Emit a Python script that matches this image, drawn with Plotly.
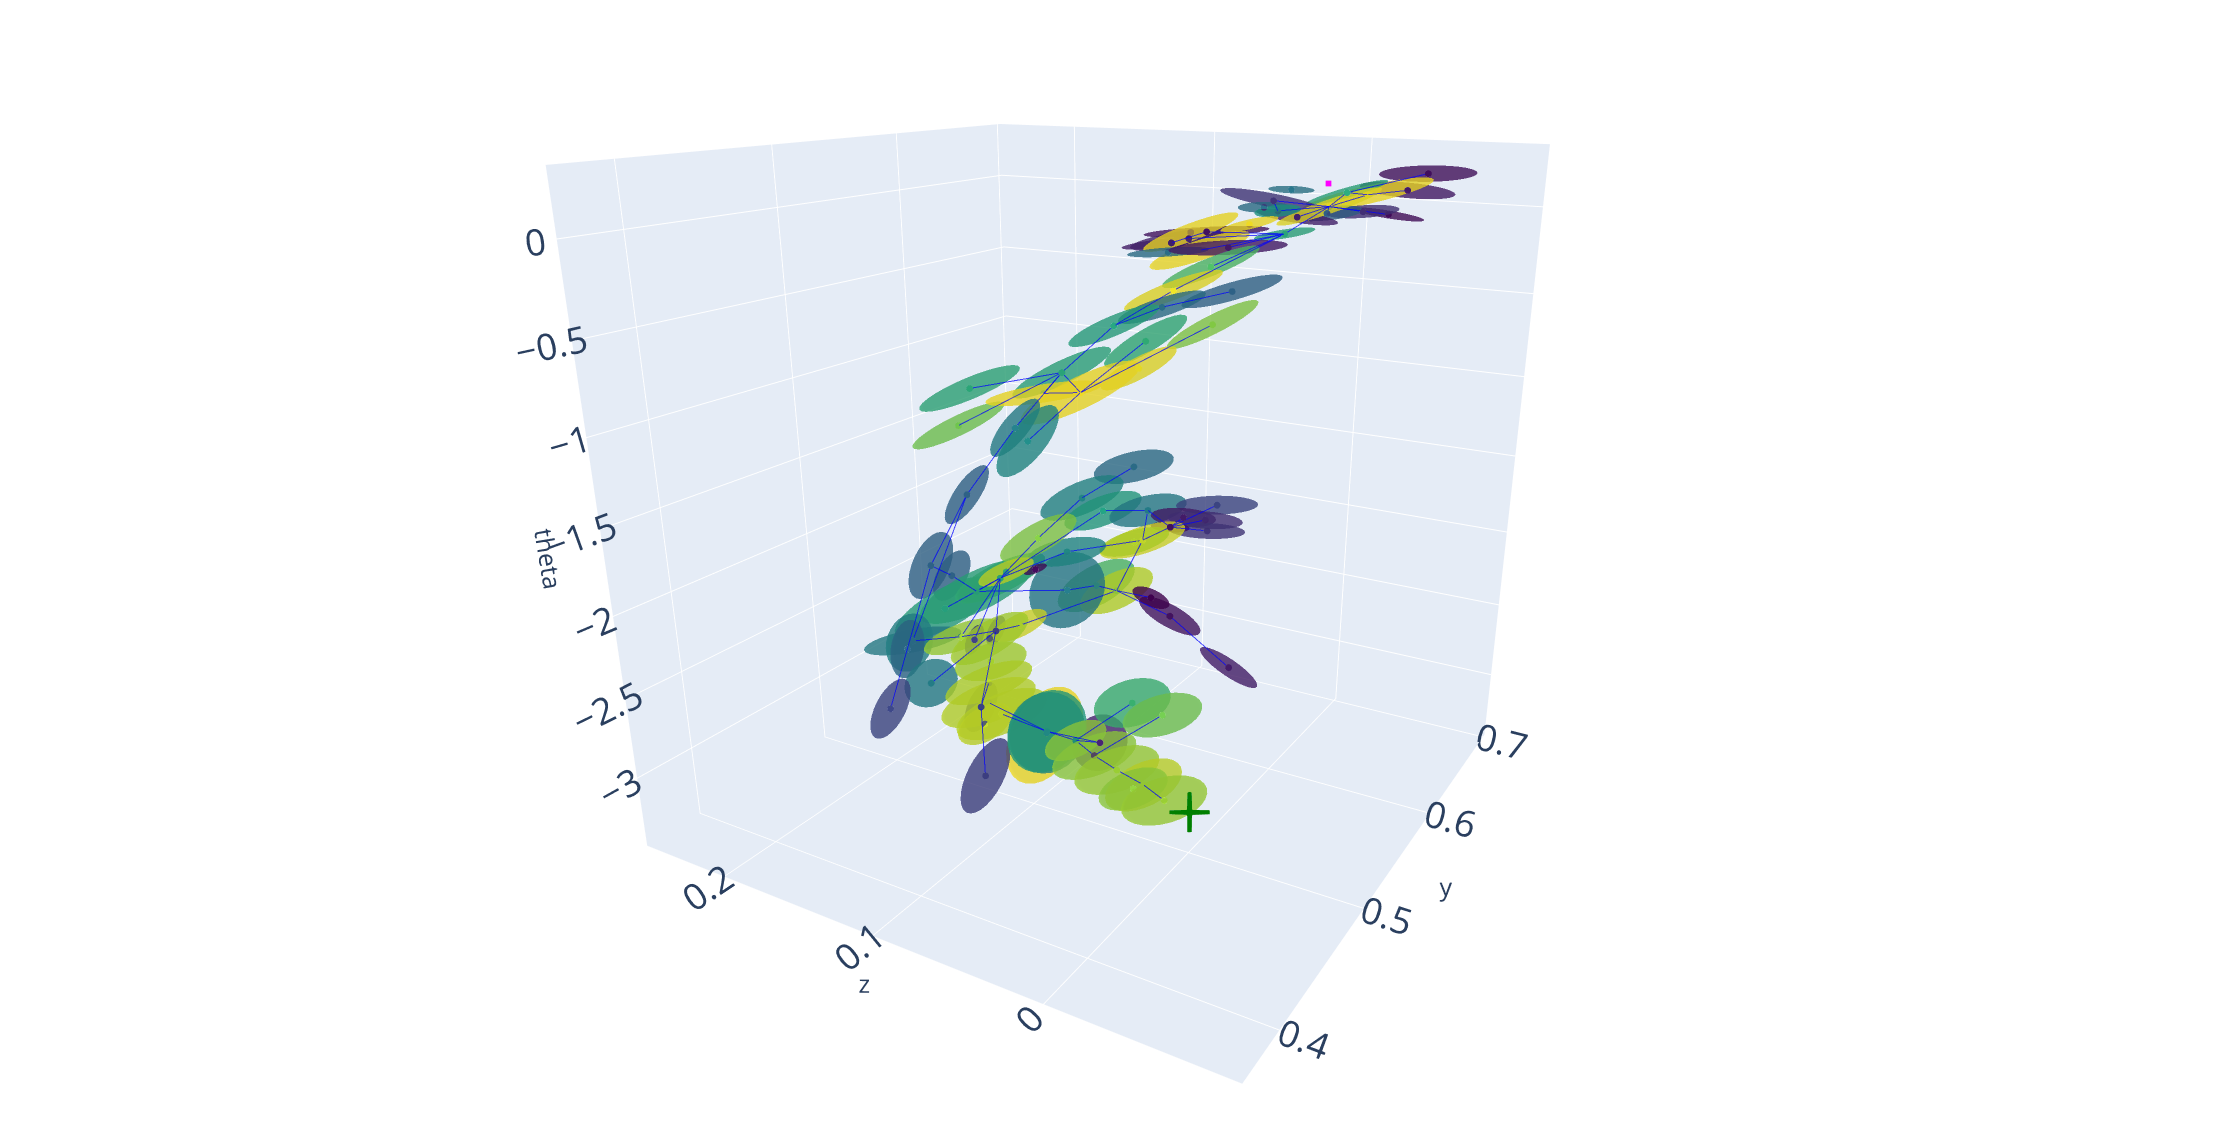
import numpy as np
import plotly.graph_objects as go
from plotly.colors import sample_colorscale

# pose nodes
node_y = [0.5910,0.5624,0.6131,0.5869,0.5690,0.5288,0.5467,0.5378,0.5327,0.4995,0.5957,0.5454,0.5390,0.5522,0.4873,0.4904,0.4924,0.5821,0.5821,0.5210,0.4894,0.5791,0.5556,0.5770,0.5159,0.5210,0.5617,0.5485,0.5770,0.5434,0.5258,
          0.5284,0.5454,0.5811,0.5791,0.5281,0.5332,0.4957,0.4765,0.4863,0.5030,0.5241,0.5423,0.4741,0.4738,0.4648,0.4728,0.5297,0.4840,0.4920,0.4525,0.4400,0.5199,0.5312,0.5414,0.5271,0.5047,0.4904,0.4965,0.4985,0.4873,0.5740,
          0.5699,0.5556,0.5709,0.5261,0.5332,0.4873,0.4822,0.4853,0.5617,0.5689,0.5691,0.5454,0.5273,0.5125,0.4992,0.4939,0.4848,0.4943,0.4235,0.4440,0.4668,0.4727,0.5114,0.5142,0.4802,0.4768,0.4761,0.4676,0.4675,0.4904,0.4861]
node_z = [-.0721,-.0726,-.0341,-.0333,-.0118,-.0212,-.0699,-.0612,-.0460,-.0462,-.0208,-.0199,-.0117,-.0128,-.0090,.0102,.0025,.0499,.0445,.0290,-.0187,.0149,.0239,.0568,-.0080,.0319,.0253,.0569,.0777,.0729,.1537,
          .1645,.1068,.1434,.1169,.1259,.1215,.1350,.1460,.1402,.1598,.1533,.1500,.1596,.1617,.1555,.1472,.1706,.1249,.1164,.0978,.1480,.0467,.0856,.0787,.0424,-.0090,.0016,-.0070,-.0071,.0070,.0728,
          .0759,.0924,.0882,.0926,.0971,.0065,.0143,.0847,.1360,.1653,.1564,.1617,.1476,.1383,.1288,.1161,.1209,.0876,.0742,.0201,.0671,.0710,.0420,.0250,.0465,.0306,.0142,.0153,-.0028,-.0250,.0619]
node_theta = [.269,.215,.121,.158,.179,.171,.116,.134,.122,.143,.070,-.010,.123,.091,.066,-.003,.020,-.097,-.192,-.104,-.002,-.027,-.226,-.417,-.260,-.387,-.548,-.648,-.889,-.570,-.989,
              -1.234,-.880,-1.137,-1.092,-1.190,-1.277,-1.510,-1.894,-1.981,-2.301,-2.258,-2.233,-2.389,-2.404,-2.390,-2.626,-2.630,-2.340,-2.298,-2.546,-2.634,-1.270,-1.555,-1.654,-1.537,-1.340,-1.380,-1.398,-1.464,-1.432,-1.940,
              -1.943,-2.209,-2.294,-2.124,-1.917,-1.929,-1.821,-1.821,-2.007,-2.325,-2.684,-2.688,-2.733,-2.788,-2.833,-2.848,-2.883,-2.911,-2.748,-2.497,-2.693,-2.726,-2.657,-2.702,-2.847,-2.872,-2.911,-2.892,-2.905,-2.163,-2.827]
node_weight = [.04,.07,1,.62,.4,.16,.03,.14,.32,.09,.98,.62,.38,.55,.05,.08,.1,1,1,.38,.07,1,.72,.98,.33,.38,.82,.65,.98,.6,.63,
               .79,.62,1,1,.45,.5,.33,.33,.33,.6,.62,.65,.45,.47,.35,.45,.86,.2,.2,.22,.22,.37,.48,.58,.44,.22,.08,.14,.16,.05,.95,
               .9,.72,.91,.43,.5,.05,0,.03,.82,.92,.95,.88,.88,.9,.91,.91,.92,1,.2,.1,.5,.58,.68,.79,.84,.86,.92,.84,.86,.08,.84]
# covariance ellipses: semi axes in box units, tilt in the view plane in degrees
semi_major = [.067,.063,.098,.060,.032,.071,.047,.047,.047,.051,.080,.042,.035,.032,.079,.064,.076,.076,.079,.056,.075,.043,.075,.080,.070,.064,.075,.071,.067,.073,.085,
              .081,.084,.098,.107,.056,.069,.053,.055,.043,.091,.103,.083,.078,.047,.046,.044,.067,.025,.025,.040,.050,.060,.069,.064,.059,.057,.045,.052,.053,.027,.073,
              .059,.070,.066,.065,.063,.049,.028,.018,.072,.052,.052,.076,.062,.076,.081,.077,.047,.083,.059,.041,.062,.067,.061,.063,.067,.066,.061,.053,.064,.048,.051]
semi_minor = [.011,.010,.013,.007,.005,.009,.005,.008,.009,.007,.010,.006,.007,.008,.006,.006,.011,.013,.015,.006,.009,.007,.013,.014,.012,.013,.014,.017,.017,.015,.017,
              .016,.018,.015,.026,.020,.028,.019,.028,.023,.032,.033,.025,.018,.036,.026,.036,.022,.012,.012,.020,.023,.022,.025,.023,.022,.013,.013,.012,.011,.007,.022,
              .019,.032,.030,.055,.021,.016,.012,.006,.025,.017,.020,.029,.030,.027,.032,.032,.027,.052,.026,.037,.057,.055,.036,.031,.030,.032,.032,.027,.033,.012,.025]
tilt_deg = [0,-6,12,15,-3,-12,-10,3,5,-9,18,8,0,5,2,5,8,20,18,3,2,12,21,20,15,17,26,30,27,22,22,
            25,25,8,25,50,50,55,65,60,28,25,25,10,70,80,30,20,65,65,65,62,12,22,20,12,0,-5,-5,-3,-5,17,
            15,28,25,45,10,-30,-25,20,28,22,25,30,15,20,20,22,30,60,62,50,60,50,15,15,20,18,25,20,15,-35,25]
edge_from = [0,1,2,3,2,6,7,5,5,8,9,11,13,14,15,16,18,20,23,22,23,24,25,26,27,29,32,30,31,35,34,34,32,35,37,37,38,39,39,40,41,48,49,47,43,47,50,46,66,54,53,53,70,55,55,55,61,61,60,60,60,60,61,63,65,63,64,64,67,49,72,50,75,76,77,83,83,84,92,92,85,86,87,88]
edge_to = [3,2,3,10,10,10,10,10,13,10,10,10,10,11,14,11,11,11,11,11,29,25,29,34,34,32,34,32,32,32,36,33,33,37,38,43,51,38,41,42,42,42,42,42,47,49,49,49,42,42,70,52,42,54,61,60,66,60,56,57,58,59,64,64,41,65,68,67,91,72,64,80,50,83,83,81,92,92,81,86,86,87,88,90]
start_pose = [0.5902, -0.0220, 0.1957]
goal_pose = [0.4491, -0.0266, -2.7845]

y_range = [0.3633, 0.7031]
z_range = [-0.0999, 0.2577]
theta_range = [-3.4473, 0.3464]
aspect = [1, 1.0091, 1.0061]
eye = np.array([-1.673, -1.0205, 0.654])
center = np.array([-0.0255, -0.0598, -0.0955])
up = np.array([-0.0134, 0.0066, 1.0])

view = (center - eye) / np.linalg.norm(center - eye)
right = np.cross(view, up)
right /= np.linalg.norm(right)
upward = np.cross(right, view)
box_to_data = np.array([(y_range[1] - y_range[0]) / aspect[0],
                        (z_range[1] - z_range[0]) / aspect[1],
                        (theta_range[1] - theta_range[0]) / aspect[2]])

# unit sphere shared by all ellipsoids
n_lon, n_lat = 28, 12
lon = np.linspace(0, 2 * np.pi, n_lon, endpoint=False)
lat = np.linspace(-np.pi / 2, np.pi / 2, n_lat)
sx = np.outer(np.cos(lat), np.cos(lon)).ravel()
sy = np.outer(np.cos(lat), np.sin(lon)).ravel()
sz = np.outer(np.sin(lat), np.ones(n_lon)).ravel()
tri_i, tri_j, tri_k = [], [], []
for a in range(n_lat - 1):
    for b in range(n_lon):
        p0 = a * n_lon + b
        p1 = a * n_lon + (b + 1) % n_lon
        p2 = (a + 1) * n_lon + b
        p3 = (a + 1) * n_lon + (b + 1) % n_lon
        tri_i += [p0, p1]
        tri_j += [p1, p3]
        tri_k += [p2, p2]

fig = go.Figure()
for n in range(len(node_y)):
    t = np.radians(tilt_deg[n])
    v1 = semi_major[n] * (np.cos(t) * right + np.sin(t) * upward)
    v2 = semi_minor[n] * (-np.sin(t) * right + np.cos(t) * upward)
    v3 = 0.004 * view
    pts = (np.outer(sx, v1) + np.outer(sy, v2) + np.outer(sz, v3)) * box_to_data
    fig.add_trace(go.Mesh3d(
        x=pts[:, 0] + node_y[n], y=pts[:, 1] + node_z[n], z=pts[:, 2] + node_theta[n],
        i=tri_i, j=tri_j, k=tri_k,
        color=sample_colorscale('Viridis', [node_weight[n]])[0],
        opacity=0.55, hoverinfo='skip', showscale=False,
        lighting=dict(ambient=0.9, diffuse=0.1, specular=0.0, fresnel=0.0)))

edge_x, edge_y, edge_z = [], [], []
for a, b in zip(edge_from, edge_to):
    edge_x += [node_y[a], node_y[b], None]
    edge_y += [node_z[a], node_z[b], None]
    edge_z += [node_theta[a], node_theta[b], None]
fig.add_trace(go.Scatter3d(x=edge_x, y=edge_y, z=edge_z, mode='lines',
                           line=dict(color='rgb(0,0,255)', width=2), opacity=0.7, hoverinfo='skip'))
fig.add_trace(go.Scatter3d(x=node_y, y=node_z, z=node_theta, mode='markers',
                           marker=dict(size=4, color=node_weight, colorscale='Viridis', cmin=0, cmax=1, line=dict(width=0))))
fig.add_trace(go.Scatter3d(x=[start_pose[0]], y=[start_pose[1]], z=[start_pose[2]], mode='markers',
                           marker=dict(size=3, color='magenta', symbol='square')))
fig.add_trace(go.Scatter3d(x=[goal_pose[0]], y=[goal_pose[1]], z=[goal_pose[2]], mode='markers',
                           marker=dict(size=22, color='green', symbol='cross')))

tick_font = dict(size=21)
title_font = dict(size=25)
fig.update_layout(
    showlegend=False,
    margin=dict(l=0, r=0, t=0, b=0),
    scene=dict(
        xaxis=dict(title=dict(text='y', font=title_font), range=y_range, dtick=0.1, tickfont=tick_font),
        yaxis=dict(title=dict(text='z', font=title_font), range=z_range, dtick=0.1, tickfont=tick_font),
        zaxis=dict(title=dict(text='theta', font=title_font), range=theta_range, dtick=0.5, tickfont=tick_font),
        aspectmode='manual',
        aspectratio=dict(x=aspect[0], y=aspect[1], z=aspect[2]),
        camera=dict(eye=dict(x=eye[0], y=eye[1], z=eye[2]),
                    center=dict(x=center[0], y=center[1], z=center[2]),
                    up=dict(x=up[0], y=up[1], z=up[2]))))
fig.write_html("out.html")
